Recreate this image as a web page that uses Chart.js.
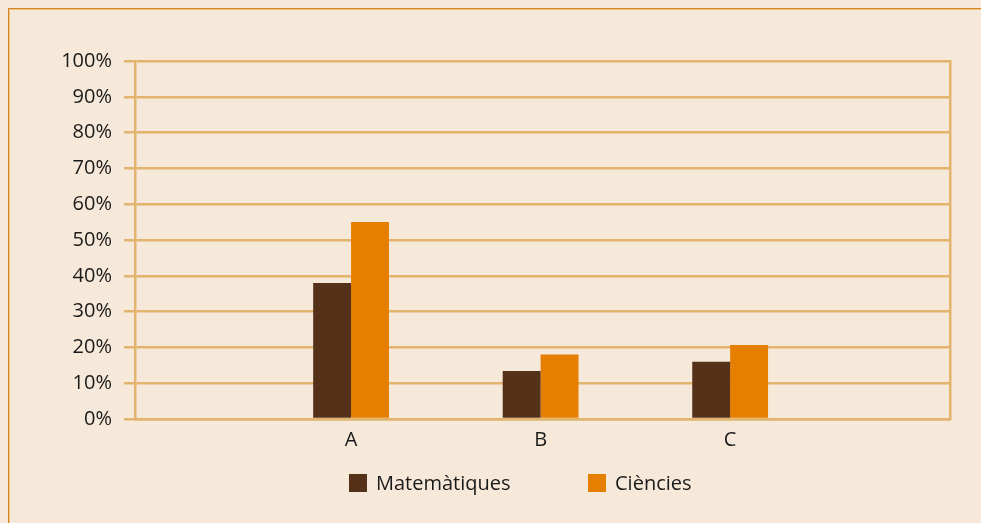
<!DOCTYPE html>
<html>
<head>
<meta charset="utf-8">
<script src="https://cdn.jsdelivr.net/npm/chart.js@4"></script>
<style>
  body { margin:0; background:#f6e9d9; width:981px; height:523px; overflow:hidden; position:relative; font-family:"Open Sans", sans-serif; }
  #frame { position:absolute; left:8px; top:8px; width:990px; height:530px; border-top:1px solid #d6861c; border-left:1px solid #d6861c; box-shadow: inset 1px 1px 0 #eec28a; }
  #grafico { position:absolute; left:0; top:0; }
  .leg { position:absolute; top:474px; display:flex; align-items:center; font-size:20px; color:#1a1a1a; line-height:18px; }
  .leg span.box { width:18px; height:18px; margin-right:9px; display:inline-block; }
</style>
</head>
<body>
<div id="frame"></div>
<canvas id="grafico" width="981" height="523"></canvas>
<div id="legend"></div>
<script>
// ----------------- DADES -----------------
const categories = ['A', 'B', 'C'];
const matematiques = [38, 13.4, 16];
const ciencies = [55, 18, 20.7];
const yTicks = [0, 10, 20, 30, 40, 50, 60, 70, 80, 90, 100];

const colorMat = '#56311a';
const colorCie = '#e67e00';
const colorGrid = '#e2b46d';
const colorText = '#1a1a1a';
const fontEix = { family: '"Open Sans", sans-serif', size: 20 };

// punts {x,y} per l'eix lineal
const punts = arr => arr.map((v, i) => ({ x: i + 1, y: v }));

const ctx = document.getElementById('grafico');
const chart = new Chart(ctx, {
  type: 'bar',
  data: {
    datasets: [
      { label: 'Matemàtiques', data: punts(matematiques), backgroundColor: colorMat, categoryPercentage: 0.4, barPercentage: 1.0 },
      { label: 'Ciències', data: punts(ciencies), backgroundColor: colorCie, categoryPercentage: 0.4, barPercentage: 1.0 }
    ]
  },
  options: {
    responsive: false,
    animation: false,
    devicePixelRatio: 1,
    layout: { padding: { left: 0, right: 31, top: 61, bottom: 70 } },
    plugins: { legend: { display: false }, tooltip: { enabled: false } },
    scales: {
      x: {
        type: 'linear',
        offset: false,
        min: -0.14,
        max: 4.16,
        grid: { display: false, offset: false },
        border: { display: true, color: colorGrid, width: 2.5 },
        afterBuildTicks: axis => { axis.ticks = categories.map((c, i) => ({ value: i + 1 })); },
        ticks: {
          color: colorText,
          font: fontEix,
          padding: 1,
          autoSkip: false,
          maxRotation: 0,
          callback: v => categories[v - 1]
        }
      },
      y: {
        min: 0,
        max: 100,
        afterBuildTicks: axis => { axis.ticks = yTicks.map(v => ({ value: v })); },
        afterFit: axis => { axis.width = 135; },
        grid: { color: colorGrid, lineWidth: 2.5, tickLength: 11 },
        border: { display: true, color: colorGrid, width: 2.5 },
        ticks: { color: colorText, font: fontEix, padding: 12, callback: v => v + '%' }
      },
      y2: {
        position: 'right',
        min: 0,
        max: 100,
        afterFit: axis => { axis.width = 0; },
        grid: { display: false },
        border: { display: true, color: colorGrid, width: 2.5 },
        ticks: { display: false }
      }
    }
  }
});

// ----------------- LLEGENDA -----------------
const legendLeft = [349, 588];
const leg = document.getElementById('legend');
chart.data.datasets.forEach((ds, i) => {
  const div = document.createElement('div');
  div.className = 'leg';
  div.style.left = legendLeft[i] + 'px';
  div.innerHTML = `<span class="box" style="background:${ds.backgroundColor}"></span><span>${ds.label}</span>`;
  leg.appendChild(div);
});
</script>
</body>
</html>
